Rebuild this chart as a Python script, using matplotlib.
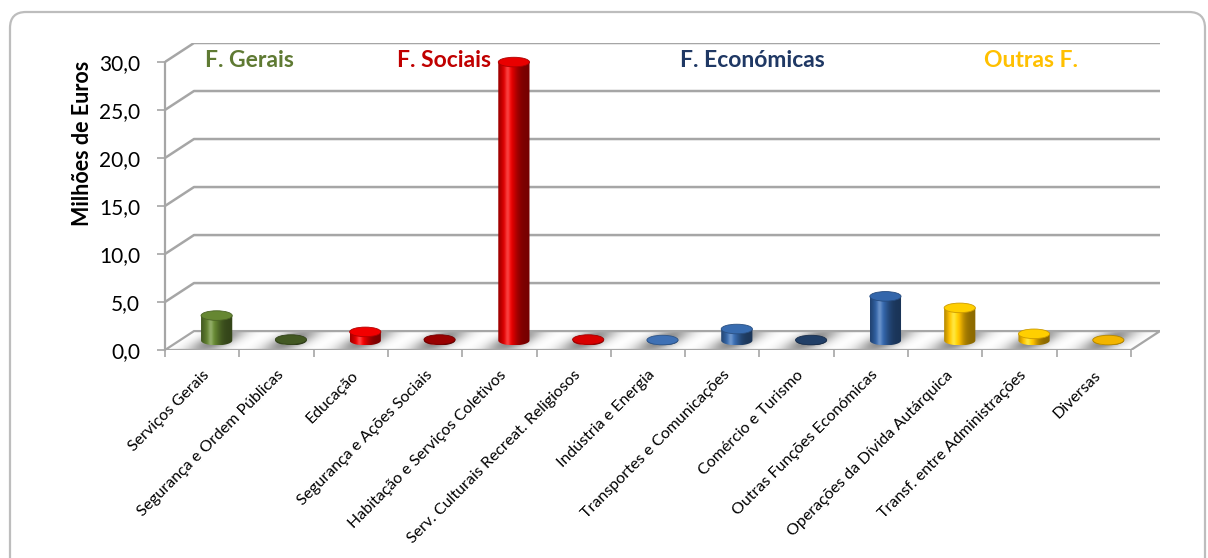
import numpy as np
import matplotlib
matplotlib.use("Agg")
import matplotlib.pyplot as plt
from matplotlib.path import Path
from matplotlib.patches import PathPatch, Ellipse, FancyBboxPatch
from matplotlib.colors import to_rgb

plt.rcParams['font.family'] = ['Lato', 'DejaVu Sans']

# data
categorias = ["Serviços Gerais", "Segurança e Ordem Públicas", "Educação",
              "Segurança e Ações Sociais", "Habitação e Serviços Coletivos",
              "Serv. Culturais Recreat. Religiosos", "Indústria e Energia",
              "Transportes e Comunicações", "Comércio e Turismo",
              "Outras Funções Económicas", "Operações da Dívida Autárquica",
              "Transf. entre Administrações", "Diversas"]
valores = [2.6, 0.1, 0.9, 0.1, 29.0, 0.1, 0.05, 1.2, 0.05, 4.6, 3.4, 0.7, 0.05]
cores = ["#5E7D2E", "#3E5220", "#E00000", "#8E0000", "#D80000", "#C80000",
         "#3A69A8", "#3464A3", "#1F3A5F", "#2F5E9E", "#FFC000", "#FFC000", "#E0A800"]
grupos = ["F. Gerais", "F. Sociais", "F. Económicas", "Outras F."]
cores_grupos = ["#5F7A33", "#C00000", "#1F3864", "#FFC000"]
pos_grupos = [1.13, 3.75, 7.9, 11.65]
yticks = [0, 5, 10, 15, 20, 25, 30]

n = len(categorias)
DX, DY = 0.39, 1.97  # profundidade (perspectiva)
W, EH = 0.42, 1.0

fig = plt.figure(figsize=(12.08, 5.58), dpi=100)
ax = fig.add_axes([165/1208, 208/558, 995/1208, 307/558])
ax.set_facecolor("none")

# moldura
frame = FancyBboxPatch((0.10, -0.3), 11.95, 5.46 + 0.3,
                       boxstyle="round,pad=0,rounding_size=0.16",
                       transform=fig.dpi_scale_trans, fill=False,
                       ec="#BDBDBD", lw=1.6, zorder=0)
fig.patches.append(frame)

# chao
floor_path = Path([(0, 0), (n, 0), (n + DX, DY), (DX, DY), (0, 0)],
                  [Path.MOVETO, Path.LINETO, Path.LINETO, Path.LINETO, Path.CLOSEPOLY])
xs = np.linspace(0, n + DX, 1400)
ys = np.linspace(0, DY, 60)
X, Y = np.meshgrid(xs, ys)
f = Y / DY
u = X - f * DX
fr = u - np.floor(u)
g = np.exp(-((fr - 0.5) / 0.24) ** 2)
h = 0.55 + 0.45 * np.exp(-((f - 0.5) / 0.45) ** 2)
inten = 1 - 0.5 * g * h
img = ax.imshow(inten, extent=[0, n + DX, 0, DY], origin="lower", cmap="gray",
                vmin=0, vmax=1, aspect="auto", interpolation="bilinear", zorder=1)
fp = PathPatch(floor_path, fc="none", ec="#A6A6A6", lw=1.6, zorder=2)
ax.add_patch(fp)
img.set_clip_path(fp)

# grelha (parede do fundo)
for v in yticks[1:]:
    ax.plot([0, DX, n + DX], [v, v + DY, v + DY], color="#A6A6A6", lw=1.8,
            zorder=1, solid_capstyle="butt")


def shade(base, t):
    c = np.array(to_rgb(base))
    k = 0.55 + 0.6 * np.exp(-((t - 0.32) / 0.28) ** 2)
    col = np.clip(c[None, :] * k[:, None], 0, 1)
    spec = 0.25 * np.exp(-((t - 0.3) / 0.08) ** 2)
    col = col + (1 - col) * spec[:, None]
    return col


# cilindros
b = DY / 2
for i, (v, c) in enumerate(zip(valores, cores)):
    cx = i + 0.5 + DX / 2
    th = np.linspace(np.pi, 2 * np.pi, 40)
    verts = [(cx - W / 2, b + v)]
    verts += [(cx + W / 2 * np.cos(t), b + EH / 2 * np.sin(t)) for t in th]
    verts += [(cx + W / 2, b + v), (cx - W / 2, b + v)]
    codes = [Path.MOVETO] + [Path.LINETO] * (len(verts) - 2) + [Path.CLOSEPOLY]
    body = PathPatch(Path(verts, codes), fc="none", ec="none", zorder=3 + i)
    ax.add_patch(body)
    t = np.linspace(0, 1, 80)
    grad = shade(c, t)[None, :, :]
    im = ax.imshow(grad, extent=[cx - W / 2, cx + W / 2, b - EH / 2, b + v],
                   aspect="auto", interpolation="bilinear", zorder=3 + i)
    im.set_clip_path(body)
    top_col = np.clip(np.array(to_rgb(c)) * 1.08, 0, 1)
    ax.add_patch(Ellipse((cx, b + v), W, EH, fc=top_col,
                         ec=np.array(to_rgb(c)) * 0.8, lw=0.6, zorder=3.5 + i))

# titulos dos grupos
for txt, col, x in zip(grupos, cores_grupos, pos_grupos):
    ax.text(x, 30.1, txt, color=col, fontsize=16.5, fontweight="bold",
            ha="center", va="center", zorder=20)

ax.set_xlim(0, n + DX)
ax.set_ylim(0, 30 + DY)

for s in ["top", "right", "bottom"]:
    ax.spines[s].set_visible(False)
ax.spines["left"].set_bounds(0, 30)
ax.spines["left"].set_color("#A6A6A6")
ax.spines["left"].set_linewidth(1.6)

ax.set_yticks(yticks)
ax.set_yticklabels([f"{v:.1f}".replace(".", ",") for v in yticks], fontsize=15)
ax.tick_params(axis="y", length=6, width=1.2, color="#A6A6A6", pad=12)

ax.set_xticks(np.arange(n) + 0.5)
ax.set_xticklabels(categorias, rotation=45, ha="right", rotation_mode="anchor",
                   fontsize=11.5)
ax.set_xticks(np.arange(n + 1), minor=True)
ax.tick_params(axis="x", which="major", length=0, pad=13)
ax.tick_params(axis="x", which="minor", length=5, width=1.2, color="#A6A6A6")

ax.set_ylabel("Milhões de Euros", fontsize=15.5, fontweight="bold")
ax.yaxis.set_label_coords(-0.072, 0.674)

fig.savefig("out.png", dpi=100)
